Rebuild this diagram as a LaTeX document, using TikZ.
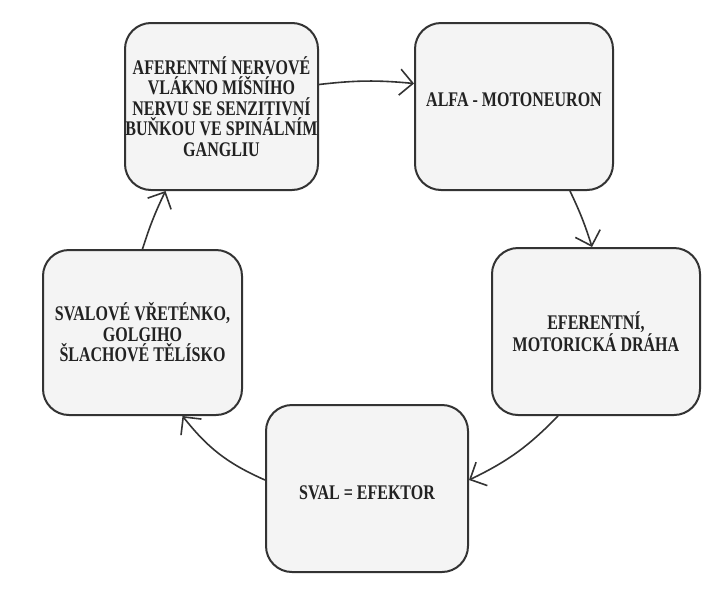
\documentclass[tikz,border=0pt]{standalone}
\usepackage{fontspec}
\setmainfont{Liberation Serif}[FakeStretch=0.77]
\usetikzlibrary{arrows.meta}
\definecolor{edge}{HTML}{333333}
\definecolor{boxfill}{HTML}{F4F4F4}
\definecolor{ink}{HTML}{222222}
\newcommand{\boxfont}{\fontsize{20.8}{20.5}\selectfont\bfseries}
\tikzset{
  box/.style={draw=edge, line width=2pt, fill=boxfill, rounded corners=26pt,
    align=center, font=\boxfont, text=ink, inner sep=0pt},
  conn/.style={draw=edge, line width=1.6pt,
    -{Straight Barb[length=13pt,width=26pt,line width=1.6pt]}}
}
\begin{document}
\begin{tikzpicture}[x=1pt,y=-1pt]
\useasboundingbox (0,0) rectangle (711,592);
\fill[white] (0,0) rectangle (711,592);
\node[box, minimum width=193pt, minimum height=167pt] (b1) at (221.5,106.5)
  {AFERENTNÍ NERVOVÉ\\VLÁKNO MÍŠNÍHO\\NERVU SE SENZITIVNÍ\\BUŇKOU VE SPINÁLNÍM\\GANGLIU};
\node[box, minimum width=198pt, minimum height=167pt] (b2) at (514,106.5) {};
\node[font=\boxfont, text=ink] (t2) at (514,100) {ALFA - MOTONEURON};
\node[box, minimum width=208pt, minimum height=167pt] (b3) at (596,331.5)
  {EFERENTNÍ,\\MOTORICKÁ DRÁHA};
\node[box, minimum width=202pt, minimum height=167pt] (b4) at (367,488.5) {};
\node[font=\boxfont, text=ink] (t4) at (367,493) {SVAL = EFEKTOR};
\node[box, minimum width=199pt, minimum height=165pt] (b5) at (142.5,332.5)
  {SVALOVÉ VŘETÉNKO,\\GOLGIHO\\ŠLACHOVÉ TĚLÍSKO};
\draw[conn] ([yshift=22pt]b1.east) to[bend left=6] ([yshift=23pt]b2.west);
\draw[conn] ([xshift=56pt]b2.south) to[bend left=4] ([xshift=-4pt]b3.north);
\draw[conn] ([xshift=-38pt]b3.south) to[bend left=10] ([yshift=8.5pt]b4.east);
\draw[conn] ([yshift=8.5pt]b4.west) to[bend left=14] ([xshift=40pt]b5.south);
\draw[conn] (b5.north) to[bend left=4] ([xshift=-56pt]b1.south);
\end{tikzpicture}
\end{document}
